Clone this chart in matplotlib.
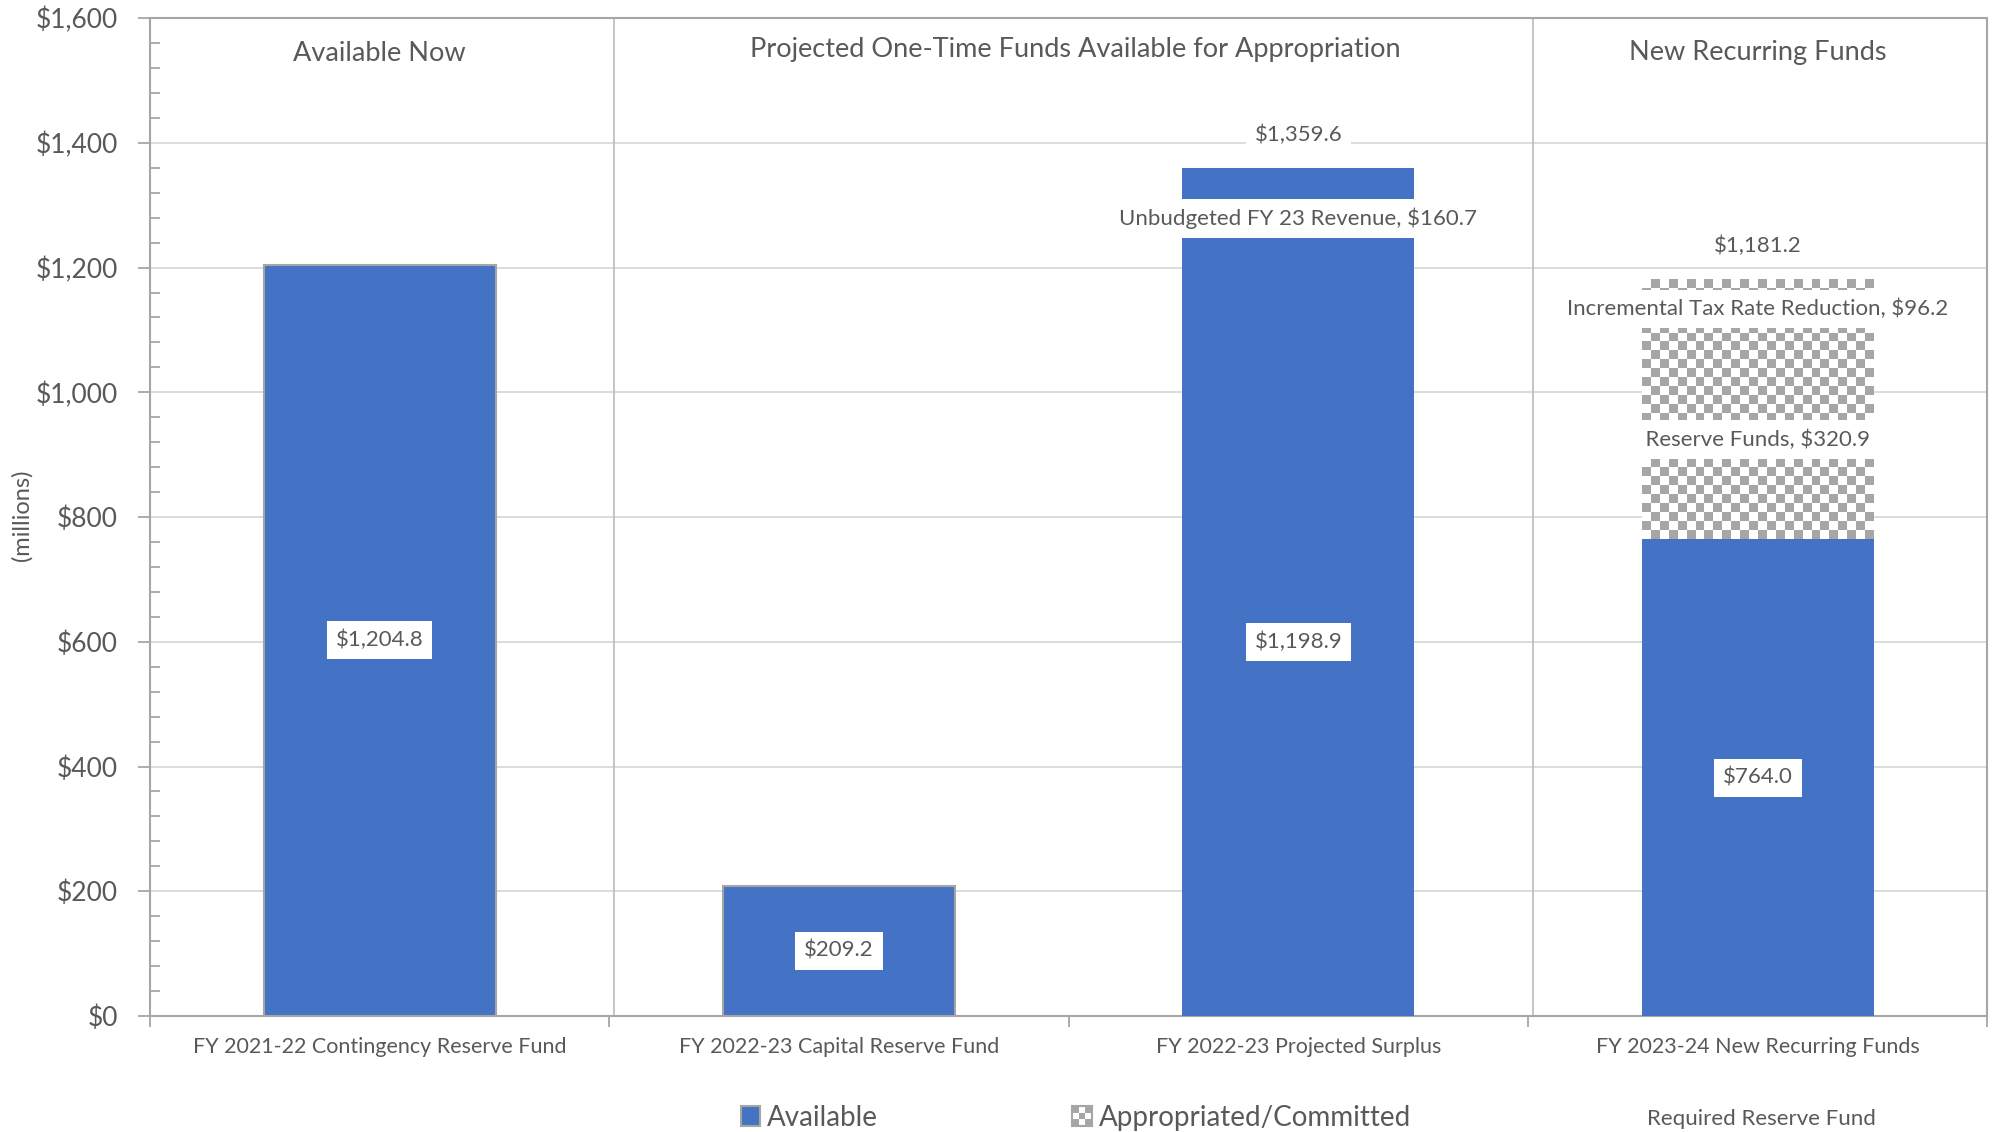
import matplotlib
matplotlib.use("Agg")
from matplotlib import pyplot as plt
from matplotlib.legend_handler import HandlerBase
from matplotlib.patches import Patch, Rectangle
from matplotlib.ticker import MultipleLocator, FuncFormatter
import numpy as np

plt.rcParams['font.family'] = ['Lato', 'DejaVu Sans']

categories = ["FY 2021-22 Contingency Reserve Fund", "FY 2022-23 Capital Reserve Fund",
              "FY 2022-23 Projected Surplus", "FY 2023-24 New Recurring Funds"]
available = [1204.8, 209.2, 1198.9, 764.0]
unbudgeted = [0, 0, 160.7, 0]
reserve_funds = [0, 0, 0, 320.9]
tax_reduction = [0, 0, 0, 96.2]
totals = [None, None, 1359.6, 1181.2]
sections = ["Available Now", "Projected One-Time Funds Available for Appropriation", "New Recurring Funds"]

BLUE = '#4472c4'
TEXT = '#595959'
CHECK = '#a6a6a6'

fig = plt.figure(figsize=(19.94, 11.32), dpi=100)
ax = fig.add_axes([0.0752, 0.1025, 0.9215, 0.8815])

x = np.arange(len(categories))
w = 0.505

# blue bars (first two with grey outline like the original)
b1 = ax.bar(x, available, w, color=BLUE, zorder=3)
for i, p in enumerate(b1):
    if i < 2:
        p.set_edgecolor('#a5a5a5')
        p.set_linewidth(1.5)
b2 = ax.bar(x, unbudgeted, w, bottom=available, color=BLUE, zorder=3)

# checkered segments
bot3 = np.array(available) + np.array(unbudgeted)
b3 = ax.bar(x, reserve_funds, w, bottom=bot3, color='white', zorder=3)
bot4 = bot3 + np.array(reserve_funds)
b4 = ax.bar(x, tax_reduction, w, bottom=bot4, color='white', zorder=3)

def checker(patch):
    if patch.get_height() <= 0:
        return
    x0, y0 = patch.get_x(), patch.get_y()
    cw = w / 26
    ch = 14.4
    y_start = available[3]
    ny = int(np.ceil((y0 + patch.get_height() - y_start) / ch)) + 1
    img = np.indices((ny, 26)).sum(axis=0) % 2
    im = ax.imshow(img, cmap=matplotlib.colors.ListedColormap(['white', CHECK]),
                   extent=(x0, x0 + 26 * cw, y_start, y_start + ny * ch),
                   origin='lower', aspect='auto', interpolation='nearest', zorder=3.5)
    im.set_clip_path(patch)

for p in list(b3) + list(b4):
    checker(p)

box = dict(boxstyle='square,pad=0.4', facecolor='white', edgecolor='none')
lab_fs = 16

def seg_label(bars, text_fn, values):
    for i, p in enumerate(bars):
        if values[i] <= 0:
            continue
        ax.text(p.get_x() + p.get_width() / 2, p.get_y() + p.get_height() / 2, text_fn(values[i]),
                ha='center', va='center', fontsize=lab_fs, color=TEXT, bbox=box, zorder=5)

seg_label(b1, lambda v: "${:,.1f}".format(v), available)
seg_label(b2, lambda v: "Unbudgeted FY 23 Revenue, ${:,.1f}".format(v), unbudgeted)
seg_label(b3, lambda v: "  Reserve Funds, ${:,.1f}  ".format(v), reserve_funds)
seg_label(b4, lambda v: "Incremental Tax Rate Reduction, ${:,.1f}".format(v), tax_reduction)

for i, t in enumerate(totals):
    if t is None:
        continue
    ax.annotate("${:,.1f}".format(t), (x[i], t), xytext=(0, 24), textcoords='offset points',
                ha='center', va='center', fontsize=lab_fs, color=TEXT, bbox=box, zorder=5)

# section separators and titles
for sx in [0.51, 2.51]:
    ax.axvline(sx, color='#bfbfbf', lw=1.3, zorder=1)
sec_x = [0, 1.515, 3.0]
sec_y = [1543, 1550, 1545]
for t, sx, sy in zip(sections, sec_x, sec_y):
    ax.text(sx, sy, t, ha='center', va='center', fontsize=19.5, color=TEXT)

ax.set_xlim(-0.5, 3.5)
ax.set_ylim(0, 1600)
ax.yaxis.set_major_locator(MultipleLocator(200))
ax.yaxis.set_minor_locator(MultipleLocator(40))
ax.yaxis.set_major_formatter(FuncFormatter(lambda v, p: "${:,.0f}".format(v)))
ax.grid(axis='y', color='#d9d9d9', lw=1.3, zorder=0)
ax.set_axisbelow(True)
ax.tick_params(axis='y', which='major', length=9, width=1.3, color='#a6a6a6',
               labelsize=19, labelcolor=TEXT, pad=14, direction='out')
ax.tick_params(axis='y', which='minor', length=7, width=1.3, color='#a6a6a6', direction='in')
ax.set_xticks(x)
ax.set_xticklabels(categories)
ax.set_xticks(np.arange(-0.5, 4, 1), minor=True)
ax.tick_params(axis='x', which='major', length=0, labelsize=15.5, labelcolor=TEXT, pad=15)
ax.tick_params(axis='x', which='minor', length=8, width=1.3, color='#a6a6a6', direction='out')
fig.text(0.0108, 0.545, "(millions)", rotation=90, ha='center', va='center', fontsize=17, color=TEXT)

for s in ['left', 'bottom', 'right', 'top']:
    ax.spines[s].set_color('#a6a6a6')
    ax.spines[s].set_linewidth(1.5)


class CheckerHandler(HandlerBase):
    def create_artists(self, legend, orig_handle, xd, yd, width, height, fontsize, trans):
        arts = [Rectangle((-xd, -yd), width, height, facecolor='white', edgecolor=CHECK,
                          lw=1.5, transform=trans)]
        n = 3
        for r in range(n):
            for c in range(n):
                if (r + c) % 2 == 0:
                    arts.append(Rectangle((-xd + c * width / n, -yd + r * height / n), width / n,
                                          height / n, facecolor=CHECK, edgecolor='none',
                                          transform=trans))
        return arts


avail_handle = Patch(facecolor=BLUE, edgecolor='#a5a5a5', lw=1.5)
appr_handle = Patch(facecolor='white', edgecolor=CHECK)
fig.legend([avail_handle, appr_handle], ["Available", "Appropriated/Committed"],
           handler_map={appr_handle: CheckerHandler()},
           loc='center', bbox_to_anchor=(0.5395, 0.0125), ncol=2, frameon=False,
           fontsize=20, labelcolor=TEXT, handlelength=0.7, handleheight=0.7,
           handletextpad=0.25, columnspacing=7.0)
fig.text(0.8835, 0.0115, "Required Reserve Fund", ha='center', va='center', fontsize=16, color=TEXT)

fig.savefig("out.png", dpi=100)
